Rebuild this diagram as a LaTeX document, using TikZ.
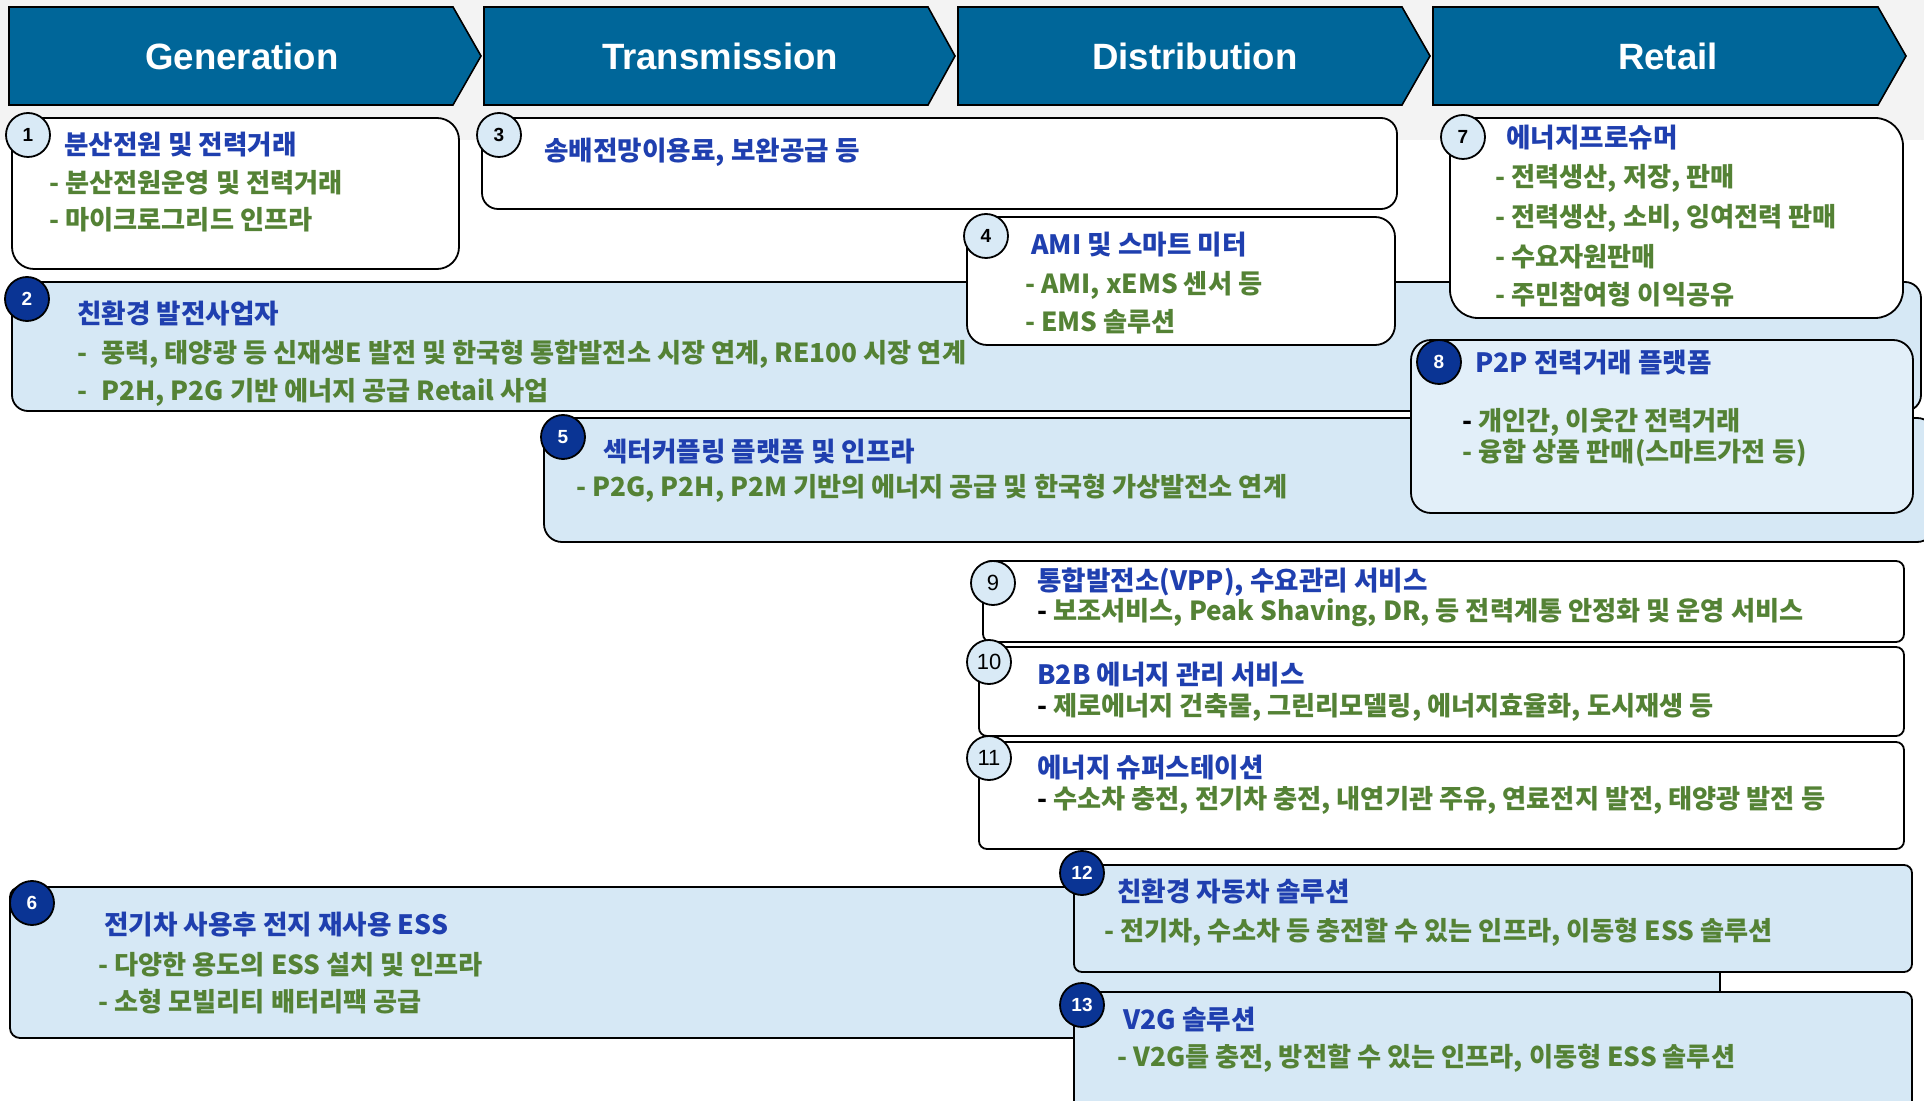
\documentclass[tikz,border=0pt]{standalone}
\usepackage{fontspec}
\setmainfont{Liberation Sans}
\newfontfamily\krfont{Noto Sans CJK KR}
\usetikzlibrary{fit}
\definecolor{hdr}{HTML}{006699}
\definecolor{ttlc}{HTML}{1F3FAF}
\definecolor{grn}{HTML}{548235}
\definecolor{navy}{HTML}{0A3494}
\definecolor{lbox}{HTML}{D6E8F5}
\definecolor{lboxb}{HTML}{E2EFF9}
\definecolor{lcirc}{HTML}{D9EAF6}
\definecolor{band}{HTML}{F3F3F3}
\tikzset{
  boxbase/.style={draw=black, line width=0.9pt, inner sep=0pt},
  wbox/.style={boxbase, fill=white},
  bbox/.style={boxbase, fill=lbox},
  numbase/.style={circle, draw=black, line width=0.9pt, minimum size=22pt, inner sep=0pt, font=\bfseries\fontsize{9.5}{10}\selectfont},
  lnum/.style={numbase, fill=lcirc, text=black},
  dnum/.style={numbase, fill=navy, text=white},
  ttl/.style={anchor=west, inner sep=0pt, text=ttlc, font=\krfont\bfseries\fontsize{13.3}{15}\selectfont},
  itm/.style={anchor=west, inner sep=0pt, text=grn, font=\krfont\bfseries\fontsize{13.1}{15}\selectfont},
  chev/.style={fill=hdr, draw=black, line width=0.8pt},
  hdrtxt/.style={text=white, inner sep=0pt, font=\bfseries\fontsize{18.3}{20}\selectfont}
}
\begin{document}
\begin{tikzpicture}[x=0.5pt, y=-0.5pt]
\clip (0,0) rectangle (1924,1101);
\fill[white] (0,0) rectangle (1924,1101);
\fill[band] (0,0) rectangle (1924,140);
% headers
\draw[chev] (9,7) -- (453,7) -- (481,56) -- (453,105) -- (9,105) -- cycle;
\node[hdrtxt] (hgen) at (242,56) {Generation};
\draw[chev] (484,7) -- (928,7) -- (955,56) -- (928,105) -- (484,105) -- cycle;
\node[hdrtxt] (htra) at (720,56) {Transmission};
\draw[chev] (958,7) -- (1402,7) -- (1430,56) -- (1402,105) -- (958,105) -- cycle;
\node[hdrtxt] (hdis) at (1195,56) {Distribution};
\draw[chev] (1433,7) -- (1878,7) -- (1906,56) -- (1878,105) -- (1433,105) -- cycle;
\node[hdrtxt] (hret) at (1668,56) {Retail};
% box 2
\node[bbox, rounded corners=8pt, fit={(12,282) (1921,411)}] (b2) {};
\node[dnum] (n2) at (27,299) {2};
\node[ttl] (t2) at (77,313) {친환경 발전사업자};
\node[itm] (i2a) at (77,354) {-\hspace{7pt}풍력, 태양광 등 신재생E 발전 및 한국형 통합발전소 시장 연계, RE100 시장 연계};
\node[itm] (i2b) at (77,392) {-\hspace{7pt}P2H, P2G 기반 에너지 공급 Retail 사업};
% box 5
\node[bbox, rounded corners=9pt, fit={(544,418) (1935,542)}] (b5) {};
\node[dnum] (n5) at (563,437) {5};
\node[ttl] (t5) at (603,452) {섹터커플링 플랫폼 및 인프라};
\node[itm] (i5a) at (576,488) {- P2G, P2H, P2M 기반의 에너지 공급 및 한국형 가상발전소 연계};
% box 1
\node[wbox, rounded corners=11pt, fit={(12,118) (459,269)}] (b1) {};
\node[lnum] (n1) at (28,135) {1};
\node[ttl] (t1) at (64,145) {분산전원 및 전력거래};
\node[itm] (i1a) at (49,183) {- 분산전원운영 및 전력거래};
\node[itm] (i1b) at (49,220) {- 마이크로그리드 인프라};
% box 3
\node[wbox, rounded corners=8pt, fit={(482,118) (1397,209)}] (b3) {};
\node[lnum] (n3) at (499,135) {3};
\node[ttl] (t3) at (544,152) {송배전망이용료, 보완공급 등};
% box 4
\node[wbox, rounded corners=10pt, fit={(967,217) (1395,345)}] (b4) {};
\node[lnum] (n4) at (986,236) {4};
\node[ttl] (t4) at (1031,245) {AMI 및 스마트 미터};
\node[itm] (i4a) at (1025,285) {- AMI, xEMS 센서 등};
\node[itm] (i4b) at (1025,322) {- EMS 솔루션};
% box 7
\node[wbox, rounded corners=14pt, fit={(1450,118) (1903,318)}] (b7) {};
\node[lnum] (n7) at (1463,137) {7};
\node[ttl] (t7) at (1506,138) {에너지프로슈머};
\node[itm] (i7a) at (1495,178) {- 전력생산, 저장, 판매};
\node[itm] (i7b) at (1495,218) {- 전력생산, 소비, 잉여전력 판매};
\node[itm] (i7c) at (1495,257) {- 수요자원판매};
\node[itm] (i7d) at (1495,295) {- 주민참여형 이익공유};
% box 8
\node[boxbase, fill=lboxb, rounded corners=10pt, fit={(1411,340) (1913,513)}] (b8) {};
\node[dnum] (n8) at (1439,362) {8};
\node[ttl] (t8) at (1475,363) {P2P 전력거래 플랫폼};
\node[itm] (i8a) at (1462,422) {\textcolor{black}{-} 개인간, 이웃간 전력거래};
\node[itm] (i8b) at (1462,453) {- 융합 상품 판매(스마트가전 등)};
% box 9
\node[wbox, rounded corners=4pt, fit={(983,561) (1904,642)}] (b9) {};
\node[lnum, font=\fontsize{11}{12}\selectfont] (n9) at (993,583) {9};
\node[ttl] (t9) at (1037,582) {통합발전소(VPP), 수요관리 서비스};
\node[itm] (i9a) at (1037,613) {\textcolor{black}{-} 보조서비스, Peak Shaving, DR, 등 전력계통 안정화 및 운영 서비스};
% box 10
\node[wbox, rounded corners=4pt, fit={(979,647) (1904,736)}] (b10) {};
\node[lnum, font=\fontsize{11}{12}\selectfont] (n10) at (989,662) {10};
\node[ttl] (t10) at (1037,675) {B2B 에너지 관리 서비스};
\node[itm] (i10a) at (1037,707) {\textcolor{black}{-} 제로에너지 건축물, 그린리모델링, 에너지효율화, 도시재생 등};
% box 11
\node[wbox, rounded corners=4pt, fit={(979,742) (1904,849)}] (b11) {};
\node[lnum, font=\fontsize{11}{12}\selectfont] (n11) at (989,758) {11};
\node[ttl] (t11) at (1037,768) {에너지 슈퍼스테이션};
\node[itm] (i11a) at (1037,800) {\textcolor{black}{-} 수소차 충전, 전기차 충전, 내연기관 주유, 연료전지 발전, 태양광 발전 등};
% box 6 (extends behind boxes 12 and 13)
\node[bbox, rounded corners=5pt, fit={(10,887) (1720,1038)}] (b6) {};
\node[dnum] (n6) at (32,903) {6};
\node[ttl] (t6) at (104,925) {전기차 사용후 전지 재사용 ESS};
\node[itm] (i6a) at (98,965) {- 다양한 용도의 ESS 설치 및 인프라};
\node[itm] (i6b) at (98,1002) {- 소형 모빌리티 배터리팩 공급};
% box 12
\node[bbox, rounded corners=4pt, fit={(1074,865) (1912,972)}] (b12) {};
\node[dnum] (n12) at (1082,873) {12};
\node[ttl] (t12) at (1117,892) {친환경 자동차 솔루션};
\node[itm] (i12a) at (1104,932) {- 전기차, 수소차 등 충전할 수 있는 인프라, 이동형 ESS 솔루션};
% box 13
\node[bbox, rounded corners=4pt, fit={(1074,992) (1912,1120)}] (b13) {};
\node[dnum] (n13) at (1082,1005) {13};
\node[ttl] (t13) at (1123,1020) {V2G 솔루션};
\node[itm] (i13a) at (1117,1058) {- V2G를 충전, 방전할 수 있는 인프라, 이동형 ESS 솔루션};
\end{tikzpicture}
\end{document}
